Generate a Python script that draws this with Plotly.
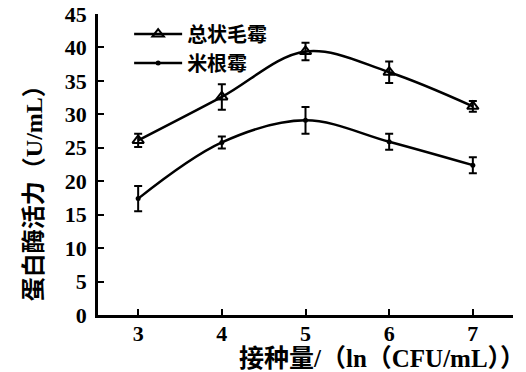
import plotly.graph_objects as go

# inoculum size, ln(CFU/mL)
inoculum = [3, 4, 5, 6, 7]

# protease activity (U/mL) and standard deviation
mucor_racemosus = [26.1, 32.6, 39.4, 36.3, 31.2]
mucor_racemosus_err = [1.0, 1.9, 1.3, 1.6, 0.8]
rhizopus_oryzae = [17.4, 25.8, 29.1, 25.9, 22.4]
rhizopus_oryzae_err = [1.9, 0.9, 2.0, 1.2, 1.2]

series_names = ["总状毛霉", "米根霉"]
x_ticks = [3, 4, 5, 6, 7]
y_ticks = [0, 5, 10, 15, 20, 25, 30, 35, 40, 45]

# serif Latin glyphs, CJK glyphs fall back to Noto Sans CJK
mixed_family = "Liberation Serif, Times New Roman, Noto Sans CJK SC, serif"
tick_font = dict(family="Liberation Serif, Times New Roman, serif", size=22,
                 color="black", weight="bold")
legend_font = dict(family=mixed_family, size=20, color="black", weight="bold")
ytitle_font = dict(family=mixed_family, size=24, color="black", weight="bold")
xtitle_font = dict(family=mixed_family, size=25, color="black", weight="bold")

fig = go.Figure()

fig.add_trace(go.Scatter(
    x=inoculum, y=mucor_racemosus, name=series_names[0],
    mode="lines+markers",
    line=dict(color="black", width=2.5, shape="spline", smoothing=1),
    marker=dict(symbol="triangle-up-open", size=10, color="black",
                line=dict(width=2, color="black")),
    error_y=dict(type="data", array=mucor_racemosus_err, visible=True,
                 color="black", thickness=2, width=4),
))

fig.add_trace(go.Scatter(
    x=inoculum, y=rhizopus_oryzae, name=series_names[1],
    mode="lines+markers",
    line=dict(color="black", width=2.5, shape="spline", smoothing=1),
    marker=dict(symbol="circle", size=5, color="black"),
    error_y=dict(type="data", array=rhizopus_oryzae_err, visible=True,
                 color="black", thickness=2, width=4),
))

fig.update_layout(
    width=526, height=372,
    margin=dict(l=98, r=13, t=14, b=57, autoexpand=False),
    paper_bgcolor="white", plot_bgcolor="white",
    showlegend=True,
    legend=dict(x=0.075, y=0.998, xanchor="left", yanchor="top",
                font=legend_font, bgcolor="rgba(0,0,0,0)",
                itemwidth=48, tracegroupgap=0),
    xaxis=dict(
        range=[2.52, 7.48], tickvals=x_ticks, ticktext=[str(v) for v in x_ticks],
        showline=True, linecolor="black", linewidth=2.5,
        ticks="inside", ticklen=6, tickwidth=2, tickcolor="black",
        showgrid=False, zeroline=False, tickfont=tick_font, automargin=False,
        ticklabelstandoff=-3,
    ),
    yaxis=dict(
        range=[0, 45], tickvals=y_ticks,
        showline=True, linecolor="black", linewidth=2.5,
        ticks="inside", ticklen=6, tickwidth=2, tickcolor="black",
        showgrid=False, zeroline=False, tickfont=tick_font, automargin=False,
        ticklabelstandoff=4,
    ),
)

# y-axis title, sitting a little below the plot's vertical centre
fig.add_annotation(
    text="蛋白酶活力（U/mL）",
    xref="paper", yref="paper", x=-0.154, y=0.425,
    xanchor="center", yanchor="middle", textangle=-90, showarrow=False,
    font=ytitle_font,
)

# x-axis title, set to the right of centre
fig.add_annotation(
    text="接种量/（ln（CFU/mL））",
    xref="paper", yref="paper", x=0.335, y=-0.145,
    xanchor="left", yanchor="middle", showarrow=False,
    font=xtitle_font,
)

fig.write_html("out.html")
